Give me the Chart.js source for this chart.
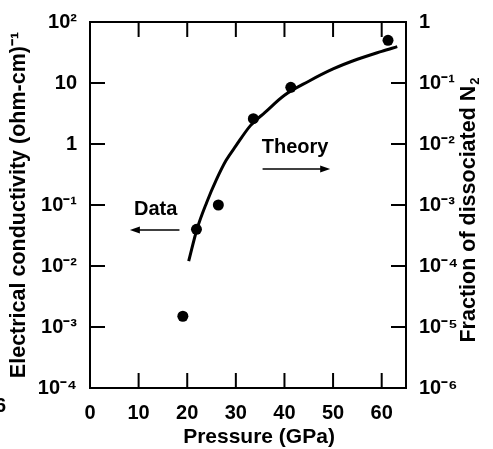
<!DOCTYPE html>
<html>
<head>
<meta charset="utf-8">
<script src="https://cdn.jsdelivr.net/npm/chart.js@4.4.1/dist/chart.umd.min.js"></script>
<style>
html, body { margin: 0; padding: 0; background: #fff; }
#wrap { width: 493px; height: 449px; }
</style>
</head>
<body>
<div id="wrap"><canvas id="myChart" width="493" height="449"></canvas></div>
<script>
// measured conductivity (dots)
const pressure = [19.1, 21.9, 26.4, 33.6, 41.3, 61.3];
const conductivity = [0.0015, 0.04, 0.1, 2.6, 8.5, 50];

// theory curve
const theoryPressure = [20.3, 22, 24, 26, 28, 30, 33, 36, 40, 45, 50, 55, 60, 63.2];
const theoryConductivity = [0.012, 0.04, 0.11, 0.26, 0.54, 0.93, 2.0, 3.3, 6.3, 10.7, 17, 24.5, 33, 39.4];

// axes
const xTicks = [0, 10, 20, 30, 40, 50, 60];
const yTicks = [1e-4, 1e-3, 1e-2, 1e-1, 1, 10, 100];
const yTickLabels = ['10⁻⁴', '10⁻³', '10⁻²', '10⁻¹', '1', '10', '10²'];
const y2Ticks = [1e-6, 1e-5, 1e-4, 1e-3, 1e-2, 1e-1, 1];
const y2TickLabels = ['10⁻⁶', '10⁻⁵', '10⁻⁴', '10⁻³', '10⁻²', '10⁻¹', '1'];

const FONT = '"Liberation Sans", Arial, Helvetica, sans-serif';
Chart.defaults.font.family = FONT;
Chart.defaults.color = '#000';

const tickFont = { size: 20, weight: 'bold' };

// frame, inward ticks, titles, Data/Theory notes
const frameAndNotes = {
    id: 'frameAndNotes',
    afterDraw(chart) {
        const { ctx, chartArea: a, scales } = chart;
        const x = scales.x, y = scales.y, y2 = scales.y2;
        const tl = 15;
        ctx.save();
        ctx.strokeStyle = '#000';
        ctx.fillStyle = '#000';
        ctx.lineWidth = 2;
        ctx.strokeRect(a.left, a.top, a.right - a.left, a.bottom - a.top);

        ctx.beginPath();
        x.ticks.forEach(t => {
            if (t.value <= x.min || t.value >= x.max) return;
            const px = x.getPixelForValue(t.value);
            ctx.moveTo(px, a.bottom); ctx.lineTo(px, a.bottom - tl);
            ctx.moveTo(px, a.top); ctx.lineTo(px, a.top + tl);
        });
        y.ticks.forEach(t => {
            if (t.value <= y.min || t.value >= y.max) return;
            const py = y.getPixelForValue(t.value);
            ctx.moveTo(a.left, py); ctx.lineTo(a.left + tl, py);
        });
        y2.ticks.forEach(t => {
            if (t.value <= y2.min || t.value >= y2.max) return;
            const py = y2.getPixelForValue(t.value);
            ctx.moveTo(a.right, py); ctx.lineTo(a.right - tl, py);
        });
        ctx.stroke();

        // notes
        ctx.font = 'bold 20px ' + FONT;
        ctx.textAlign = 'center';
        ctx.textBaseline = 'middle';
        ctx.fillText('Data', x.getPixelForValue(13.5), y.getPixelForValue(0.083));
        ctx.fillText('Theory', x.getPixelForValue(42.2), y.getPixelForValue(0.89));

        function arrow(x1, x2, yy) {
            const p1 = x.getPixelForValue(x1), p2 = x.getPixelForValue(x2);
            const py = y.getPixelForValue(yy);
            const dir = Math.sign(p2 - p1);
            ctx.beginPath();
            ctx.moveTo(p1, py); ctx.lineTo(p2 - dir * 8, py);
            ctx.lineWidth = 1.6;
            ctx.stroke();
            ctx.beginPath();
            ctx.moveTo(p2, py);
            ctx.lineTo(p2 - dir * 10, py - 3.5);
            ctx.lineTo(p2 - dir * 10, py + 3.5);
            ctx.closePath();
            ctx.fill();
        }
        arrow(18.4, 8.2, 0.039);
        arrow(35.5, 49.4, 0.39);

        // x title (sits a little right of the axis centre)
        ctx.font = 'bold 21px ' + FONT;
        ctx.fillText('Pressure (GPa)', 259, 437);

        // right axis title, reading upward, with subscript
        const main = 'Fraction of dissociated N';
        ctx.translate(469, 210);
        ctx.rotate(-Math.PI / 2);
        ctx.font = 'bold 21.5px ' + FONT;
        const w1 = ctx.measureText(main).width;
        ctx.font = 'bold 13px ' + FONT;
        const w2 = ctx.measureText('2').width;
        const start = -(w1 + w2 + 1) / 2;
        ctx.textAlign = 'left';
        ctx.font = 'bold 21.5px ' + FONT;
        ctx.fillText(main, start, 0);
        ctx.font = 'bold 13px ' + FONT;
        ctx.fillText('2', start + w1 + 1, 6);
        ctx.restore();

        // scan artefact at far left
        ctx.save();
        ctx.font = 'bold 20px ' + FONT;
        ctx.textBaseline = 'middle';
        ctx.fillText('6', -5, 406);
        ctx.restore();
    }
};

const ctx = document.getElementById('myChart').getContext('2d');
const myChart = new Chart(ctx, {
    type: 'scatter',
    data: {
        datasets: [
            {
                label: 'Theory',
                type: 'line',
                data: theoryPressure.map((p, i) => ({ x: p, y: theoryConductivity[i] })),
                borderColor: '#000',
                borderWidth: 3,
                pointRadius: 0,
                fill: false,
                cubicInterpolationMode: 'monotone',
                yAxisID: 'y',
            },
            {
                label: 'Data',
                data: pressure.map((p, i) => ({ x: p, y: conductivity[i] })),
                backgroundColor: '#000',
                borderColor: '#000',
                pointRadius: 5.5,
                pointBorderWidth: 0,
                yAxisID: 'y',
            },
        ],
    },
    options: {
        responsive: false,
        animation: false,
        layout: { padding: { top: 22, left: 0, right: 0, bottom: 0 } },
        plugins: {
            legend: { display: false },
            tooltip: { enabled: false },
        },
        scales: {
            x: {
                type: 'linear',
                min: 0,
                max: 65,
                afterBuildTicks: s => { s.ticks = xTicks.map(v => ({ value: v })); },
                afterFit: s => { s.height = 61; },
                grid: { display: false },
                border: { display: false },
                ticks: { font: tickFont, padding: 5, maxRotation: 0, callback: v => String(v) },
            },
            y: {
                type: 'logarithmic',
                position: 'left',
                min: 1e-4,
                max: 100,
                afterBuildTicks: s => { s.ticks = yTicks.map(v => ({ value: v })); },
                afterFit: s => { s.width = 90; },
                grid: { display: false },
                border: { display: false },
                ticks: {
                    font: tickFont,
                    padding: 5,
                    callback: v => yTickLabels[yTicks.indexOf(v)],
                },
                title: {
                    display: true,
                    text: 'Electrical conductivity (ohm-cm)⁻¹',
                    font: { size: 21.5, weight: 'bold' },
                    padding: { top: 6, bottom: 0 },
                },
            },
            y2: {
                type: 'logarithmic',
                position: 'right',
                min: 1e-6,
                max: 1,
                afterBuildTicks: s => { s.ticks = y2Ticks.map(v => ({ value: v })); },
                afterFit: s => { s.width = 87; },
                grid: { display: false },
                border: { display: false },
                ticks: {
                    font: tickFont,
                    padding: 5,
                    callback: v => y2TickLabels[y2Ticks.indexOf(v)],
                },
            },
        },
    },
    plugins: [frameAndNotes],
});
</script>
</body>
</html>
